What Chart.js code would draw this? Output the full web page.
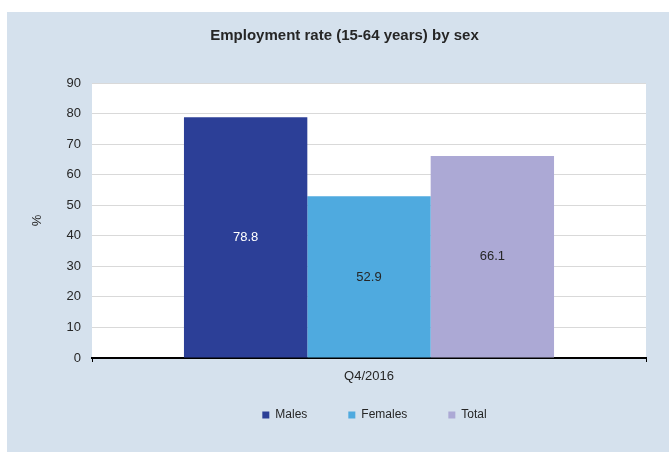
<!DOCTYPE html>
<html lang="en">
  <head>
    <meta charset="UTF-8">
    <title>Employment rate (15-64 years) by sex</title>
    <script src="https://cdn.jsdelivr.net/npm/chart.js@4"></script>
    <style>
      html, body { margin: 0; padding: 0; background: #ffffff; overflow: hidden; }
      #panel { position: absolute; left: 7px; top: 12px; width: 662px; height: 440px; background: #d5e1ed; }
    </style>
  </head>
  <body>
    <div id="panel"><canvas id="chart"></canvas></div>
    <script type="text/javascript">
      const categories = ['Q4/2016']
      const seriesNames = ['Males', 'Females', 'Total']
      const males = [78.8]
      const females = [52.9]
      const total = [66.1]
      const yTicks = { min: 0, max: 90, step: 10 }

      const FONT = '"Liberation Sans", Arial, sans-serif'
      const TEXT = '#262626'

      // white plot area on the blue panel
      const plotBackground = {
        id: 'plotBackground',
        beforeDraw(chart) {
          const { ctx, chartArea: a } = chart
          ctx.save()
          ctx.fillStyle = '#ffffff'
          ctx.fillRect(a.left, a.top, a.right - a.left, a.bottom - a.top)
          ctx.restore()
        }
      }

      // title and legend sit a bit right of the canvas centre in the original,
      // legend also sits closer to the axis than its padding would allow
      const nudge = {
        id: 'nudge',
        afterLayout(chart) {
          if (chart.titleBlock) { chart.titleBlock.left += 18; chart.titleBlock.right += 18 }
          if (chart.legend) {
            chart.legend.left += 48; chart.legend.right += 48
            chart.legend.top -= 21; chart.legend.bottom -= 21
          }
        }
      }

      // value written in the middle of each bar
      const barValues = {
        id: 'barValues',
        afterDatasetsDraw(chart) {
          const { ctx } = chart
          ctx.save()
          ctx.font = '13px ' + FONT
          ctx.textAlign = 'center'
          ctx.textBaseline = 'middle'
          chart.data.datasets.forEach((ds, i) => {
            chart.getDatasetMeta(i).data.forEach((bar, j) => {
              ctx.fillStyle = ds.valueColor
              ctx.fillText(ds.data[j].toFixed(1), bar.x, (bar.y + bar.base) / 2)
            })
          })
          ctx.restore()
        }
      }

      const ctx = document.getElementById('chart').getContext('2d')
      const chart = new Chart(ctx, {
        type: 'bar',
        data: {
          labels: categories,
          datasets: [
            { label: seriesNames[0], data: males, backgroundColor: '#2c3f97', valueColor: '#ffffff' },
            { label: seriesNames[1], data: females, backgroundColor: '#4faadf', valueColor: TEXT },
            { label: seriesNames[2], data: total, backgroundColor: '#aca9d5', valueColor: TEXT }
          ]
        },
        plugins: [plotBackground, nudge, barValues],
        options: {
          responsive: true,
          maintainAspectRatio: false,
          animation: false,
          datasets: { bar: { categoryPercentage: 0.668, barPercentage: 1.0 } },
          layout: { padding: { top: 8, right: 23, bottom: 0, left: 0 } },
          plugins: {
            title: {
              display: true,
              text: 'Employment rate (15-64 years) by sex',
              color: TEXT,
              font: { family: FONT, size: 15, weight: 'bold' },
              padding: { top: 7, bottom: 38 }
            },
            legend: {
              position: 'bottom',
              labels: {
                boxWidth: 7,
                boxHeight: 7,
                padding: 41,
                color: TEXT,
                font: { family: FONT, size: 12 }
              }
            },
            tooltip: { enabled: false }
          },
          scales: {
            x: {
              afterFit(scale) { scale.height = 31 },
              grid: { display: true, drawOnChartArea: false, drawTicks: true, tickLength: 4, color: '#000000' },
              border: { display: true, color: '#000000', width: 2 },
              ticks: { color: TEXT, padding: 7, font: { family: FONT, size: 13 } }
            },
            y: {
              min: yTicks.min,
              max: yTicks.max,
              afterFit(scale) { scale.width = 85 },
              ticks: { stepSize: yTicks.step, color: TEXT, padding: 11, font: { family: FONT, size: 13 } },
              grid: { color: '#d9d9d9', drawTicks: false },
              border: { display: false },
              title: {
                display: true,
                text: '%',
                color: TEXT,
                font: { family: FONT, size: 13 },
                padding: { top: 23, bottom: 0 }
              }
            }
          }
        }
      })
    </script>
  </body>
</html>
